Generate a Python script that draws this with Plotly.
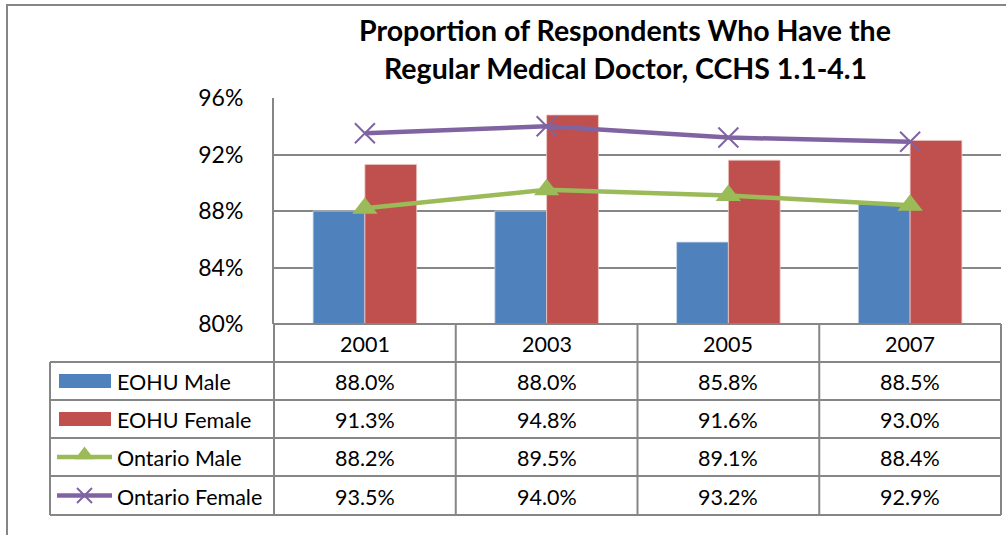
import plotly.graph_objects as go

years = ["2001", "2003", "2005", "2007"]
eohu_male = [0.880, 0.880, 0.858, 0.885]
eohu_female = [0.913, 0.948, 0.916, 0.930]
ontario_male = [0.882, 0.895, 0.891, 0.884]
ontario_female = [0.935, 0.940, 0.932, 0.929]
series_names = ["EOHU Male", "EOHU Female", "Ontario Male", "Ontario Female"]
title_lines = ["Proportion of Respondents Who Have the", "Regular Medical Doctor, CCHS 1.1-4.1"]
y_ticks = [0.80, 0.84, 0.88, 0.92, 0.96]

W, H = 1006, 535
L, R, T, B = 274, 1001, 98, 324  # plot area in pixels
FONT = "Lato"
TSIZE = 21.5
GRID = "#868686"
C_BLUE, C_RED, C_GREEN, C_PURPLE = "#4F81BD", "#C0504D", "#9BBB59", "#8064A2"


def px(x):
    return x / W


def py(y):
    return (H - y) / H


fig = go.Figure()
fig.add_trace(go.Bar(x=years, y=eohu_male, name=series_names[0],
                     marker=dict(color=C_BLUE, line=dict(color="#c9d7ea", width=0.8))))
fig.add_trace(go.Bar(x=years, y=eohu_female, name=series_names[1],
                     marker=dict(color=C_RED, line=dict(color="#ecc9c8", width=0.8))))
fig.add_trace(go.Scatter(x=years, y=ontario_male, name=series_names[2], mode="lines+markers",
                         line=dict(color=C_GREEN, width=4.5),
                         marker=dict(symbol="triangle-up", size=22, color=C_GREEN)))
fig.add_trace(go.Scatter(x=years, y=ontario_female, name=series_names[3], mode="lines+markers",
                         line=dict(color=C_PURPLE, width=4.5),
                         marker=dict(symbol="x-thin", size=20, color=C_PURPLE,
                                     line=dict(color=C_PURPLE, width=2))))

shapes = []
annotations = []


def hline(y, x0, x1, w=2):
    shapes.append(dict(type="line", xref="paper", yref="paper", x0=px(x0), x1=px(x1), y0=py(y), y1=py(y),
                       line=dict(color=GRID, width=w)))


def vline(x, y0, y1, w=2):
    shapes.append(dict(type="line", xref="paper", yref="paper", x0=px(x), x1=px(x), y0=py(y0), y1=py(y1),
                       line=dict(color=GRID, width=w)))


def text(x, y, s, size=TSIZE, xanchor="center", bold=False):
    annotations.append(dict(x=px(x), y=py(y), xref="paper", yref="paper",
                            text=f"<b>{s}</b>" if bold else s, showarrow=False,
                            xanchor=xanchor, yanchor="middle",
                            font=dict(family=FONT, size=size, color="black")))


# outer chart border
hline(5, 6, 1010)
vline(7, 4, 540)

# data table grid
col_x = [L + i * (R - L) / 4 for i in range(5)]
row_y = [324, 362, 400, 438, 476, 515]
LEG_X0 = 50
hline(row_y[0], L, R)
for yy in row_y[1:]:
    hline(yy, LEG_X0, R)
for xx in col_x:
    vline(xx, row_y[0], row_y[-1])
vline(LEG_X0, row_y[1], row_y[-1])

# header row (years)
for i, yr in enumerate(years):
    text((col_x[i] + col_x[i + 1]) / 2, (row_y[0] + row_y[1]) / 2 + 1, yr)

all_series = [eohu_male, eohu_female, ontario_male, ontario_female]
for r, (name, vals) in enumerate(zip(series_names, all_series)):
    yc = (row_y[r + 1] + row_y[r + 2]) / 2 + 1
    text(115, yc, name, xanchor="left")
    for i, v in enumerate(vals):
        text((col_x[i] + col_x[i + 1]) / 2, yc, f"{v * 100:.1f}%")

# legend keys
key_colors = [C_BLUE, C_RED]
for r in range(2):
    yc = (row_y[r + 1] + row_y[r + 2]) / 2
    shapes.append(dict(type="rect", xref="paper", yref="paper", x0=px(59), x1=px(111),
                       y0=py(yc - 7), y1=py(yc + 7), fillcolor=key_colors[r], line=dict(width=0)))
key_line_y = []
for r, c in zip([2, 3], [C_GREEN, C_PURPLE]):
    yc = (row_y[r + 1] + row_y[r + 2]) / 2
    key_line_y.append(yc)
    shapes.append(dict(type="line", xref="paper", yref="paper", x0=px(57), x1=px(112),
                       y0=py(yc), y1=py(yc), line=dict(color=c, width=4.5)))
fig.add_trace(go.Scatter(x=[84.5], y=[key_line_y[0] - 2], xaxis="x2", yaxis="y2", mode="markers",
                         marker=dict(symbol="triangle-up", size=17, color=C_GREEN),
                         showlegend=False, hoverinfo="skip"))
fig.add_trace(go.Scatter(x=[84.5], y=[key_line_y[1]], xaxis="x2", yaxis="y2", mode="markers",
                         marker=dict(symbol="x-thin", size=15, color=C_PURPLE,
                                     line=dict(color=C_PURPLE, width=2)),
                         showlegend=False, hoverinfo="skip"))

# title
for line, yc in zip(title_lines, [30, 68]):
    text(625, yc, line, size=28.5, bold=True)

fig.update_layout(
    width=W, height=H,
    margin=dict(l=0, r=0, t=0, b=0, pad=0, autoexpand=False),
    paper_bgcolor="white", plot_bgcolor="rgba(0,0,0,0)",
    barmode="group", bargap=0.43, bargroupgap=0,
    showlegend=False,
    xaxis=dict(domain=[L / W, R / W], showticklabels=False, showgrid=False, zeroline=False,
               showline=False, ticks="", anchor="y"),
    yaxis=dict(domain=[(H - B) / H, (H - T) / H], anchor="x", range=[0.80, 0.96], tickvals=y_ticks,
               tickformat=".0%", showgrid=True, gridcolor=GRID, gridwidth=2, zeroline=False,
               showline=True, linecolor=GRID, linewidth=2, ticks="", automargin=False,
               ticklabelstandoff=24, tickfont=dict(family=FONT, size=23, color="black")),
    xaxis2=dict(domain=[0, 1], range=[0, W], anchor="y2", visible=False),
    yaxis2=dict(domain=[0, 1], range=[H, 0], anchor="x2", visible=False),
    shapes=shapes, annotations=annotations,
)

fig.write_html("out.html", config={"displayModeBar": False},
               post_script="document.body.style.margin='0';document.body.style.overflow='hidden';")
